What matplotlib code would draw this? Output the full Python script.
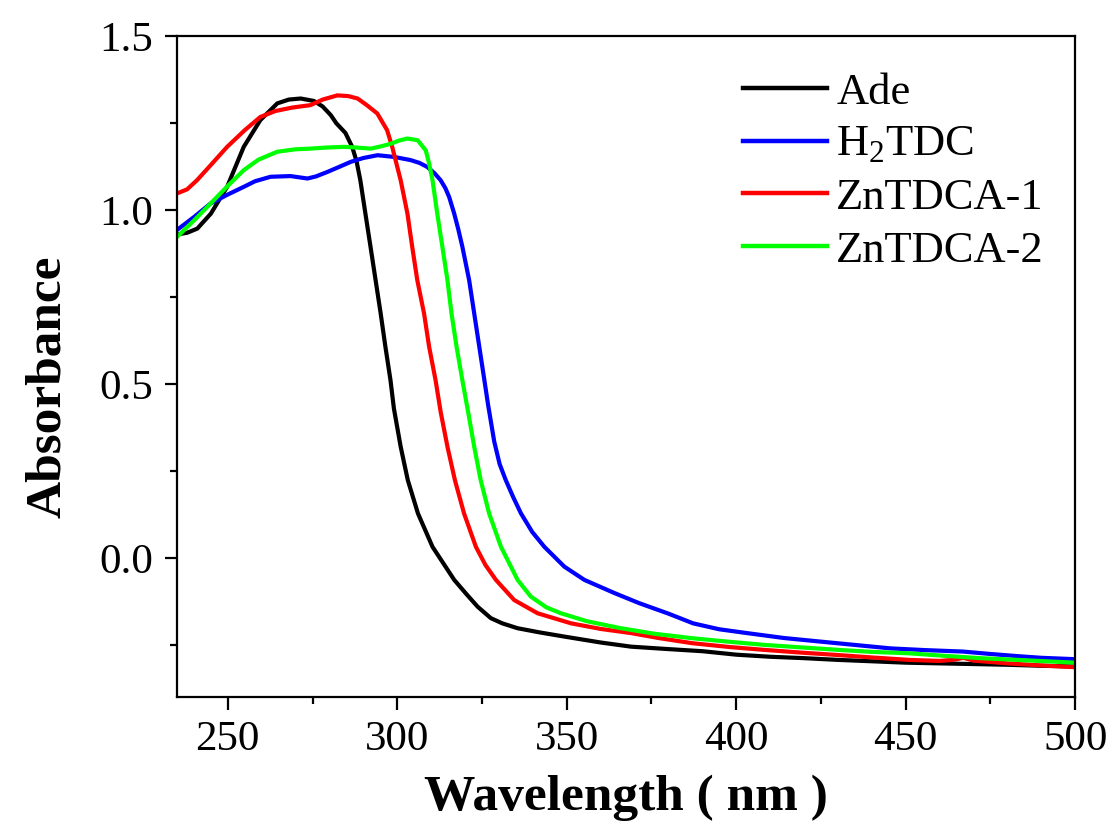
import matplotlib
matplotlib.use("Agg")
import matplotlib.pyplot as plt
from matplotlib.ticker import MultipleLocator

plt.rcParams['font.family'] = ['Liberation Serif', 'DejaVu Serif']
plt.rcParams['mathtext.fontset'] = 'custom'
plt.rcParams['mathtext.rm'] = 'Liberation Serif'

# ---- data ----
ade_wl = [235, 238, 241, 245, 249.8, 254.7, 259.6, 264.6, 268, 271.5, 275.4, 278, 280.4, 282,
          284.7, 286.7, 288, 289.1, 290.6, 292.1, 293.6, 295.1, 296.5, 298.0, 299.0, 301.0,
          303.1, 306.1, 310.4, 316.8, 320.5, 323.7, 327.6, 331, 335.5, 342, 349.3, 360, 369,
          380, 390, 400, 410, 420, 430, 440, 450, 460, 470, 480, 490, 500]
ade_abs = [0.93, 0.935, 0.947, 0.99, 1.067, 1.182, 1.259, 1.307, 1.318, 1.321, 1.314, 1.298, 1.273,
           1.25, 1.222, 1.182, 1.14, 1.086, 0.99, 0.895, 0.799, 0.703, 0.607, 0.511, 0.43, 0.32,
           0.224, 0.128, 0.032, -0.063, -0.105, -0.14, -0.173, -0.188, -0.202, -0.214, -0.226,
           -0.243, -0.255, -0.262, -0.268, -0.278, -0.284, -0.288, -0.293, -0.297, -0.301,
           -0.303, -0.305, -0.307, -0.31, -0.312]

h2tdc_wl = [235, 240, 244.9, 250, 254.7, 258, 262.6, 268.5, 273.5, 276, 279.4, 283, 286.3, 290,
            294.2, 299.1, 303.9, 306.5, 308.9, 311, 312.8, 314.2, 315.3, 316.8, 318.0, 319.2,
            321.2, 322.7, 324.2, 325.7, 326.8, 328.6, 330.2, 332.0, 334.2, 336.5, 339.8, 343.4,
            349.3, 355.2, 364.1, 371.4, 380, 387.3, 395, 403.2, 414, 424.4, 435, 445.6, 456,
            466.8, 475, 482.7, 490, 500]
h2tdc_abs = [0.943, 0.98, 1.019, 1.045, 1.067, 1.083, 1.096, 1.098, 1.091, 1.097, 1.11, 1.125,
             1.139, 1.15, 1.158, 1.153, 1.144, 1.136, 1.124, 1.106, 1.086, 1.063, 1.038, 0.99,
             0.945, 0.895, 0.799, 0.703, 0.607, 0.511, 0.44, 0.335, 0.27, 0.224, 0.175, 0.128,
             0.075, 0.032, -0.025, -0.063, -0.101, -0.13, -0.16, -0.188, -0.205, -0.216, -0.23,
             -0.24, -0.25, -0.26, -0.265, -0.269, -0.276, -0.282, -0.287, -0.291]

zn1_wl = [235, 238, 240.9, 245, 249.8, 255, 259.6, 264, 269, 274.4, 278, 282.3, 285.5, 288.3,
          291, 294.1, 297.0, 298.5, 301.0, 303.0, 304.4, 305.9, 307.9, 309.4, 311.3, 312.8,
          314.8, 317.0, 319.7, 323.2, 326, 329.1, 334.5, 341.4, 351.3, 360, 369, 377, 387, 398,
          408, 419, 430, 440, 451, 460, 464, 467, 470, 480, 490, 500]
zn1_abs = [1.048, 1.06, 1.086, 1.13, 1.182, 1.23, 1.268, 1.285, 1.295, 1.302, 1.318, 1.33, 1.328,
           1.321, 1.302, 1.278, 1.23, 1.182, 1.086, 0.99, 0.895, 0.799, 0.703, 0.607, 0.511,
           0.42, 0.32, 0.224, 0.128, 0.032, -0.02, -0.063, -0.121, -0.159, -0.188, -0.204,
           -0.216, -0.23, -0.245, -0.256, -0.264, -0.272, -0.279, -0.286, -0.293, -0.296,
           -0.293, -0.287, -0.295, -0.303, -0.309, -0.314]

zn2_wl = [235, 240, 244.9, 250, 254.7, 259, 264.6, 270, 274.4, 279, 284.3, 288, 292.2, 295,
          298.1, 300.5, 303, 306, 308.4, 309.4, 310.4, 311.8, 313.3, 314.8, 316.0, 317.5, 319.2,
          320.9, 322.7, 324.6, 327.1, 330.6, 335.5, 339.4, 344, 348.3, 356, 366, 376, 387.3,
          398, 408.5, 419, 429.7, 440, 450.9, 461, 472, 485, 500]
zn2_abs = [0.923, 0.97, 1.019, 1.07, 1.115, 1.145, 1.168, 1.175, 1.177, 1.18, 1.182, 1.18, 1.177,
           1.183, 1.191, 1.2, 1.206, 1.201, 1.172, 1.134, 1.086, 0.99, 0.895, 0.799, 0.703,
           0.607, 0.511, 0.42, 0.32, 0.224, 0.128, 0.032, -0.063, -0.111, -0.142, -0.159,
           -0.182, -0.202, -0.218, -0.231, -0.241, -0.25, -0.257, -0.264, -0.27, -0.274, -0.281,
           -0.288, -0.294, -0.301]

labels = ['Ade', 'H$_\\mathregular{2}$TDC', 'ZnTDCA-1', 'ZnTDCA-2']
colors = ['#000000', '#0000ff', '#ff0000', '#00ff00']
x_ticks = [250, 300, 350, 400, 450, 500]
y_ticks = [0.0, 0.5, 1.0, 1.5]

fig = plt.figure(figsize=(11.13, 8.24), dpi=100)
ax = fig.add_axes([0.159, 0.154, 0.807, 0.802])

series = [(ade_wl, ade_abs), (h2tdc_wl, h2tdc_abs), (zn1_wl, zn1_abs), (zn2_wl, zn2_abs)]
for (wl, ab), lab, c in zip(series, labels, colors):
    ax.plot(wl, ab, color=c, lw=3, label=lab, solid_joinstyle='round')

ax.set_xlim(235, 500)
ax.set_ylim(-0.4, 1.5)
ax.set_xticks(x_ticks)
ax.set_yticks(y_ticks)
ax.set_yticklabels([f'{v:.1f}' for v in y_ticks])
ax.xaxis.set_minor_locator(MultipleLocator(25))
ax.yaxis.set_minor_locator(MultipleLocator(0.25))
ax.tick_params(which='major', direction='out', length=9, width=1.6, labelsize=31, pad=8)
ax.tick_params(which='minor', direction='out', length=5, width=1.6)
ax.tick_params(top=False, right=False)
for sp in ax.spines.values():
    sp.set_linewidth(1.6)

ax.set_xlabel('Wavelength ( nm )', fontsize=37, fontweight='bold', labelpad=11)
ax.set_ylabel('Absorbance', fontsize=37, fontweight='bold')
ax.yaxis.set_label_coords(-0.118, 0.469)

leg = ax.legend(loc='upper right', bbox_to_anchor=(0.985, 0.972), frameon=False, fontsize=32,
                handlelength=1.9, handletextpad=0.2, labelspacing=0.28, borderaxespad=0)
for line in leg.get_lines():
    line.set_linewidth(3.2)

fig.savefig('out.png', dpi=100)
